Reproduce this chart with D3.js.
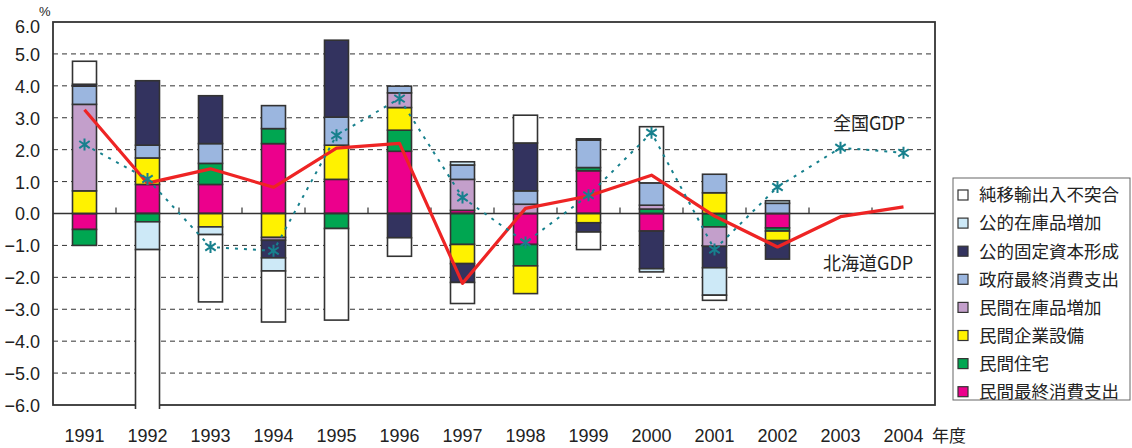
<!DOCTYPE html>
<html>
<head>
<meta charset="utf-8">
<script src="https://cdn.jsdelivr.net/npm/d3@7"></script>
<style>
  body { margin: 0; background: #fff; }
  svg text { fill: #222; }
  .num { font-family: "Liberation Sans Narrow", "Liberation Sans", sans-serif; font-size: 18px; }
  .jp { font-family: "Noto Sans CJK JP", sans-serif; font-size: 17px; }
</style>
</head>
<body>
<div id="main"></div>
<script>
const years = ['1991','1992','1993','1994','1995','1996','1997','1998','1999','2000','2001','2002','2003','2004'];
const yTicks = [6,5,4,3,2,1,0,-1,-2,-3,-4,-5,-6];

// contributions by component, 1991-2002
const netExport   = [0.72,-5.05,-2.11,-1.60,-2.87,-0.58,-0.66, 0.87,-0.55, 1.76,-0.16, 0.00];
const pubStock    = [0.00,-0.87,-0.24,-0.41, 0.00, 0.00, 0.10, 0.00, 0.04,-0.10,-0.86, 0.08];
const pubFixed    = [0.06, 2.02, 1.50,-0.55, 2.41,-0.76,-0.59, 1.50,-0.29,-1.18,-0.67,-0.58];
const govCons     = [0.57, 0.40, 0.62, 0.72, 0.88, 0.21, 0.45, 0.42, 0.86, 0.70, 0.58, 0.32];
const privStock   = [2.71, 0.00, 0.00,-0.09, 0.00, 0.46, 0.97, 0.29, 0.00, 0.12,-0.61, 0.00];
const privCapex   = [0.71, 0.83,-0.42,-0.75, 1.07, 0.71,-0.60,-0.87,-0.29, 0.00, 0.65,-0.30];
const privHousing = [-0.50,-0.26, 0.66, 0.47,-0.47, 0.66,-0.97,-0.67, 0.10, 0.14,-0.42,-0.10];
const privCons    = [-0.50, 0.91, 0.91, 2.19, 1.07, 1.95, 0.10,-0.97, 1.34,-0.55, 0.00,-0.45];

const hokkaidoGDP = [3.25, 0.95, 1.40, 0.82, 2.05, 2.20,-2.19, 0.16, 0.55, 1.20,-0.08,-1.05,-0.10, 0.21];
const nationalGDP = [2.16, 1.08,-1.05,-1.17, 2.45, 3.60, 0.50,-0.91, 0.57, 2.53,-1.13, 0.83, 2.06, 1.90];

const series = [
  { key: 'privCons',    name: '民間最終消費支出', vals: privCons,    color: '#ec008c' },
  { key: 'privHousing', name: '民間住宅',         vals: privHousing, color: '#00a651' },
  { key: 'privCapex',   name: '民間企業設備',     vals: privCapex,   color: '#fff200' },
  { key: 'privStock',   name: '民間在庫品増加',   vals: privStock,   color: '#c39fcb' },
  { key: 'govCons',     name: '政府最終消費支出', vals: govCons,     color: '#9bb6df' },
  { key: 'pubFixed',    name: '公的固定資本形成', vals: pubFixed,    color: '#33335f' },
  { key: 'pubStock',    name: '公的在庫品増加',   vals: pubStock,    color: '#cde9f7' },
  { key: 'netExport',   name: '純移輸出入不突合', vals: netExport,   color: '#ffffff' }
];

const width = 1132, height = 448;
const plot = { left: 53, right: 935, top: 22, bottom: 405 };

const svg = d3.select('#main').append('svg')
  .attr('width', width).attr('height', height)
  .attr('viewBox', [0, 0, width, height]);

const x = d3.scaleBand().domain(years).range([plot.left, plot.right]).padding(0);
const y = d3.scaleLinear().domain([-6, 6]).range([plot.bottom, plot.top]);
const barW = 24;
const cx = d => x(d) + x.bandwidth() / 2;

// grid lines
svg.append('g').selectAll('line').data(yTicks.filter(t => t !== 0 && t !== 6 && t !== -6)).join('line')
  .attr('x1', plot.left).attr('x2', plot.right)
  .attr('y1', d => y(d)).attr('y2', d => y(d))
  .attr('stroke', '#333').attr('stroke-width', 1).attr('stroke-dasharray', '5,4');

// y axis labels
const ay = d3.axisLeft(y).tickValues(yTicks).tickSize(0).tickPadding(13)
  .tickFormat(d => (d < 0 ? '\u2212' : '') + Math.abs(d).toFixed(1));
const gy = svg.append('g').attr('transform', `translate(${plot.left},0)`).call(ay);
gy.select('.domain').remove();
gy.selectAll('text').attr('class', 'num').attr('font-size', null).attr('font-family', null)
  .attr('dy', '0.36em');
gy.selectAll('.tick').filter(d => d === 6).select('text').attr('dy', '0.6em');
svg.append('text').attr('class', 'num').attr('x', 39).attr('y', 16)
  .style('font-size', '13px').text('%');

// stacked bars
const table = years.slice(0, 12).map((yr, i) => {
  const row = { year: yr };
  series.forEach(s => { row[s.key] = s.vals[i]; });
  return row;
});
const stacked = d3.stack().keys(series.map(s => s.key)).offset(d3.stackOffsetDiverging)(table);

svg.append('clipPath').attr('id', 'clip').append('rect')
  .attr('x', 0).attr('y', 0).attr('width', width).attr('height', 409);

const bars = svg.append('g').attr('clip-path', 'url(#clip)');
stacked.forEach((layer, li) => {
  bars.append('g').selectAll('rect')
    .data(layer.filter(d => Math.abs(d[1] - d[0]) > 1e-9)).join('rect')
    .attr('x', d => cx(d.data.year) - barW / 2)
    .attr('width', barW)
    .attr('y', d => y(Math.max(d[0], d[1])))
    .attr('height', d => Math.abs(y(d[0]) - y(d[1])))
    .attr('fill', series[li].color)
    .attr('stroke', '#333').attr('stroke-width', 1.6);
});

// frame
svg.append('rect').attr('x', plot.left).attr('y', plot.top)
  .attr('width', plot.right - plot.left).attr('height', plot.bottom - plot.top)
  .attr('fill', 'none').attr('stroke', '#333').attr('stroke-width', 1.8);
// redraw 1992 bar bottom over the frame (bar runs off the scale)
bars.raise();

// zero line with category ticks
svg.append('line').attr('x1', plot.left).attr('x2', plot.right)
  .attr('y1', y(0)).attr('y2', y(0)).attr('stroke', '#333').attr('stroke-width', 1.4);
svg.append('g').selectAll('line').data(years.slice(1)).join('line')
  .attr('x1', d => x(d)).attr('x2', d => x(d))
  .attr('y1', y(0)).attr('y2', y(0) - 6)
  .attr('stroke', '#333').attr('stroke-width', 1.2);

// x labels
svg.append('g').selectAll('text').data(years).join('text')
  .attr('class', 'num').attr('x', d => cx(d)).attr('y', 442)
  .attr('text-anchor', 'middle').text(d => d);
svg.append('text').attr('class', 'jp').attr('x', 932).attr('y', 442).text('年度');

// Hokkaido GDP line
const line = d3.line().x((d, i) => cx(years[i])).y(d => y(d));
svg.append('path').datum(hokkaidoGDP).attr('d', line)
  .attr('fill', 'none').attr('stroke', '#ee2424').attr('stroke-width', 3.2)
  .attr('stroke-linejoin', 'round');

// national GDP line
const teal = '#17808d';
svg.append('path').datum(nationalGDP).attr('d', line)
  .attr('fill', 'none').attr('stroke', teal).attr('stroke-width', 2)
  .attr('stroke-dasharray', '3,6');
const r = 6;
svg.append('g').selectAll('path').data(nationalGDP).join('path')
  .attr('transform', (d, i) => `translate(${cx(years[i])},${y(d)})`)
  .attr('d', `M0,${-r}V${r}M${-r * 0.87},${-r * 0.6}L${r * 0.87},${r * 0.6}M${-r * 0.87},${r * 0.6}L${r * 0.87},${-r * 0.6}`)
  .attr('stroke', teal).attr('stroke-width', 2).attr('fill', 'none');

// series labels
svg.append('text').attr('class', 'jp').attr('x', 833).attr('y', 130).style('font-size', '18px').text('全国GDP');
svg.append('text').attr('class', 'jp').attr('x', 823).attr('y', 270).style('font-size', '18px').text('北海道GDP');

// legend
const legend = svg.append('g');
legend.append('rect').attr('x', 953).attr('y', 178).attr('width', 177).attr('height', 222)
  .attr('fill', '#fff').attr('stroke', '#666').attr('stroke-width', 1);
const items = series.slice().reverse();
const lg = legend.selectAll('g').data(items).join('g')
  .attr('transform', (d, i) => `translate(958,${195 + i * 28.1})`);
lg.append('rect').attr('x', 0).attr('y', -5).attr('width', 10).attr('height', 10)
  .attr('fill', d => d.color).attr('stroke', '#333').attr('stroke-width', 1.2);
lg.append('text').attr('class', 'jp').attr('x', 21).attr('y', 0).attr('dy', '0.36em')
  .style('font-size', '17.5px').text(d => d.name);
</script>
</body>
</html>
